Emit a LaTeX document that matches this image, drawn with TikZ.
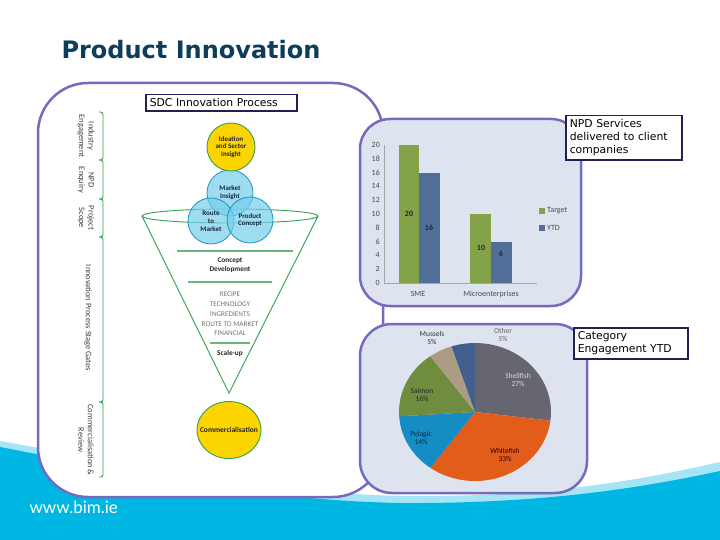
\documentclass[tikz,border=0pt]{standalone}
\usepackage{fontspec}
\setmainfont{DejaVu Sans}
\newfontfamily\calib{Carlito}
\newfontfamily\webfont{Lato}
\usetikzlibrary{positioning,calc,shapes.geometric}
\definecolor{slidecyan}{RGB}{0,182,226}
\definecolor{panelline}{RGB}{118,106,190}
\definecolor{panelfill}{RGB}{221,228,239}
\definecolor{titleteal}{RGB}{12,62,92}
\definecolor{boxline}{RGB}{32,32,82}
\definecolor{funnelgreen}{RGB}{52,160,82}
\definecolor{ideayellow}{RGB}{252,212,0}
\definecolor{marketblue}{RGB}{118,206,236}
\definecolor{marketline}{RGB}{30,150,185}
\definecolor{navytext}{RGB}{20,40,64}
\definecolor{target}{RGB}{132,162,72}
\definecolor{ytd}{RGB}{80,110,152}
\definecolor{shellfish}{RGB}{102,102,112}
\definecolor{whitefish}{RGB}{226,92,26}
\definecolor{pelagic}{RGB}{22,140,196}
\definecolor{salmon}{RGB}{112,140,62}
\definecolor{mussels}{RGB}{172,156,132}
\definecolor{other}{RGB}{66,96,142}

\begin{document}
\begin{tikzpicture}[
    x=1pt, y=-1pt,
    panel/.style={draw=panelline, line width=2.5pt, rounded corners=#1},
    capbox/.style={draw=boxline, line width=1.5pt, fill=white, anchor=north west, align=left, inner sep=4pt, font=\fontsize{10.8}{13}\selectfont},
    stagebrace/.style={draw=funnelgreen, line width=0.9pt, rounded corners=2.5},
    stagetext/.style={rotate=-90, align=center, text=black!75, font=\calib\fontsize{8.4}{9.5}\selectfont},
    funnel/.style={draw=funnelgreen, line width=0.9pt},
    gateline/.style={draw=funnelgreen!75, line width=1.3pt},
    gatetext/.style={align=center, text=black!85, font=\calib\bfseries\fontsize{7.3}{8.5}\selectfont},
    bubble/.style={circle, draw=marketline, line width=0.8pt, fill=marketblue, fill opacity=0.7, text opacity=1, minimum size=46, inner sep=0pt, align=center, text=navytext, font=\calib\bfseries\fontsize{7}{7.8}\selectfont},
    sun/.style={draw=funnelgreen, line width=0.9pt, fill=ideayellow, inner sep=0pt, align=center, text=black!85, font=\calib\bfseries\fontsize{7}{7.8}\selectfont},
    tick/.style={anchor=east, inner sep=1pt, text=black!70, font=\calib\fontsize{8}{9}\selectfont},
    barval/.style={inner sep=0pt, text=black!85, font=\calib\bfseries\fontsize{8}{9}\selectfont},
    pielabel/.style={align=center, inner sep=0pt, font=\calib\fontsize{7.5}{8.5}\selectfont},
]
\useasboundingbox (0,0) rectangle (720,540);
\fill[white] (0,0) rectangle (720,540);

% background wave
\fill[slidecyan!35] (0,441) .. controls (120,462) and (250,492) .. (400,496) .. controls (550,498) and (650,478) .. (720,462) -- (720,540) -- (0,540) -- cycle;
\fill[slidecyan] (0,447) .. controls (120,470) and (250,500) .. (400,503) .. controls (550,504) and (650,486) .. (720,471) -- (720,540) -- (0,540) -- cycle;
\node[anchor=west, text=white, font=\webfont\fontsize{17}{17}\selectfont] (web) at (26,507) {www.bim.ie};

% title
\node[anchor=west, text=titleteal, font=\bfseries\fontsize{24}{26}\selectfont] (title) at (58,50) {Product Innovation};

% panels
\draw[panel=50, fill=white] (38,83) rectangle (383,497);
\draw[panel=30, fill=panelfill] (360,119) rectangle (581,306);
\draw[panel=32, fill=panelfill] (360,324) rectangle (587,493);

% caption boxes
\node[capbox, text width=143] (sdc) at (145,94) {SDC Innovation Process};
\node[capbox, text width=108] (npd) at (565,115) {NPD Services\\delivered to client\\companies};
\node[capbox, text width=106] (cat) at (573,327) {Category\\Engagement YTD};

% stage brackets
\foreach \a/\b in {112/160,160/199,199/237,237/402,402/477}
  \draw[stagebrace] (99,\a) -- (103,\a) -- (103,\b) -- (99,\b);
\node[stagetext] (industry) at (86,136) {Industry\\Engagement};
\node[stagetext] (enquiry) at (86,180) {NPD\\Enquiry};
\node[stagetext] (scope) at (86,218) {Project\\Scope};
\node[stagetext] (gates) at (88,318) {Innovation Process Stage Gates};
\node[stagetext] (review) at (86,440) {Commercialisation \&\\Review};

% funnel
\draw[funnel] (142,216) -- (229,393) -- (318,216);
\draw[funnel] (230,216) ellipse [x radius=88, y radius=7];
\draw[gateline] (177,251) -- (293,251);
\draw[gateline] (188,282) -- (272,282);
\draw[gateline] (210,343) -- (250,343);

% market bubbles
\node[bubble] (insight) at (230,193) {Market\\Insight};
\node[bubble] (route) at (211,221) {Route\\to\\Market};
\node[bubble] (concept) at (250,220) {Product\\Concept};
\node[sun, circle, minimum size=48] (ideation) at (231,147) {Ideation\\and Sector\\Insight};

% stage gates
\node[gatetext] (develop) at (230,265) {Concept\\Development};
\node[align=center, text=black!55, font=\calib\fontsize{7.2}{9.7}\selectfont] (checks) at (230,314) {RECIPE\\TECHNOLOGY\\INGREDIENTS\\ROUTE TO MARKET\\FINANCIAL};
\node[gatetext] (scale) at (230,354) {Scale-up};
\node[sun, ellipse, minimum width=64, minimum height=57] (commercial) at (229,430) {};
\node[gatetext, font=\calib\bfseries\fontsize{7.5}{8}\selectfont] (commtext) at (commercial) {Commercialisation};

% bar chart
\draw[black!35, line width=0.6pt] (384,145) -- (384,283) -- (537,283);
\foreach \v in {0,2,...,20}
  \node[tick] (t\v) at (381,{283-6.9*\v}) {\v};
\fill[target] (399,283) rectangle (419,145);
\fill[ytd] (419,283) rectangle (440,172.6);
\fill[target] (470,283) rectangle (491,214);
\fill[ytd] (491,283) rectangle (512,241.6);
\node[barval] (smet) at (409,214) {20};
\node[barval] (smey) at (429,228) {16};
\node[barval] (microt) at (481,248) {10};
\node[barval] (microy) at (501,254) {6};
\node[tick, anchor=center] (sme) at (418,294) {SME};
\node[tick, anchor=center] (micro) at (491,294) {Microenterprises};
\fill[target] (539,208) rectangle (545,214);
\node[tick, anchor=west] (legt) at (546,211) {Target};
\fill[ytd] (539,225) rectangle (545,231);
\node[tick, anchor=west] (legy) at (546,228) {YTD};

% pie chart
\begin{scope}[shift={(475,412)}, yscale=-1]
  \fill[shellfish] (0,0) -- (90:76 and 69) arc[start angle=90, end angle=-7.2, x radius=76, y radius=69] -- cycle;
  \fill[whitefish] (0,0) -- (-7.2:76 and 69) arc[start angle=-7.2, end angle=-126, x radius=76, y radius=69] -- cycle;
  \fill[pelagic] (0,0) -- (-126:76 and 69) arc[start angle=-126, end angle=-176.4, x radius=76, y radius=69] -- cycle;
  \fill[salmon] (0,0) -- (-176.4:76 and 69) arc[start angle=-176.4, end angle=-234, x radius=76, y radius=69] -- cycle;
  \fill[mussels] (0,0) -- (126:76 and 69) arc[start angle=126, end angle=108, x radius=76, y radius=69] -- cycle;
  \fill[other] (0,0) -- (108:76 and 69) arc[start angle=108, end angle=90, x radius=76, y radius=69] -- cycle;
\end{scope}
\node[pielabel, text=black!80] (lmussels) at (432,338) {Mussels\\5\%};
\node[pielabel, text=black!60] (lother) at (503,335) {Other\\5\%};
\node[pielabel, text=white!85!black] (lshell) at (518,380) {Shellfish\\27\%};
\node[pielabel, text=black!85] (lsalmon) at (422,395) {Salmon\\16\%};
\node[pielabel, text=navytext] (lpelagic) at (421,438) {Pelagic\\14\%};
\node[pielabel, text=black!80!red] (lwhite) at (505,455) {Whitefish\\33\%};

\end{tikzpicture}
\end{document}
